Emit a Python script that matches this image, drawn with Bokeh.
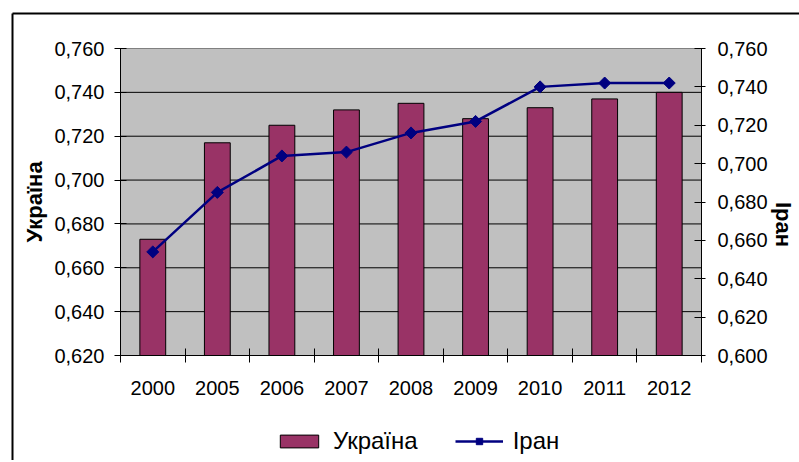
import math
from bokeh.plotting import figure
from bokeh.models import (Range1d, LinearAxis, FixedTicker, CustomJSTickFormatter,
                          Legend, LegendItem, ColumnDataSource)
from bokeh.embed import file_html
from bokeh.resources import INLINE

# ---- data ----
years = ["2000", "2005", "2006", "2007", "2008", "2009", "2010", "2011", "2012"]
ukraine = [0.673, 0.717, 0.725, 0.732, 0.735, 0.728, 0.733, 0.737, 0.740]
iran = [0.654, 0.685, 0.704, 0.706, 0.716, 0.722, 0.740, 0.742, 0.742]
left_ticks = [0.62, 0.64, 0.66, 0.68, 0.70, 0.72, 0.74, 0.76]
right_ticks = [0.60, 0.62, 0.64, 0.66, 0.68, 0.70, 0.72, 0.74, 0.76]

FONT = "Liberation Sans"
# canvas size and where the chart's plot area sits on it (pixels)
W, H = 799, 460
PA_L, PA_R, PA_T, PA_B = 120, 701, 48, 355
BORDER_X, BORDER_Y = 12, 13

n = len(years)
xc = [i + 0.5 for i in range(n)]
bounds = list(range(n + 1))

# ranges chosen so that the whole canvas is the Bokeh frame and the plot area
# lands on the PA_* pixels
ux = n / (PA_R - PA_L)
x_start, x_end = 0 - PA_L * ux, n + (W - PA_R) * ux
uyl = (left_ticks[-1] - left_ticks[0]) / (PA_B - PA_T)
yl_top, yl_bot = left_ticks[-1] + PA_T * uyl, left_ticks[0] - (H - PA_B) * uyl
uyr = (right_ticks[-1] - right_ticks[0]) / (PA_B - PA_T)
yr_top, yr_bot = right_ticks[-1] + PA_T * uyr, right_ticks[0] - (H - PA_B) * uyr


def px_x(px):
    return x_start + px * ux


def px_y(py):
    return yl_top - py * uyl


src = ColumnDataSource(dict(x=xc, ukraine=ukraine, iran=iran, year=years))

p = figure(width=W, height=H,
           x_range=Range1d(x_start, x_end), y_range=Range1d(yl_bot, yl_top),
           output_backend="svg", toolbar_location=None,
           min_border=0, min_border_left=0, min_border_right=0,
           min_border_top=0, min_border_bottom=0,
           background_fill_color="white", border_fill_color="white",
           outline_line_color=None)
p.extra_y_ranges = {"iran": Range1d(yr_bot, yr_top)}
p.xgrid.visible = False
p.ygrid.visible = False

fmt = CustomJSTickFormatter(code="return tick.toFixed(3).replace('.', ',');")
xfmt = CustomJSTickFormatter(args=dict(years=years),
                             code="return years[Math.floor(tick)];")

# plot-area background and horizontal gridlines
p.quad(left=[0], right=[n], bottom=[left_ticks[0]], top=[left_ticks[-1]],
       fill_color="#C0C0C0", line_color="#808080", line_width=1)
p.segment(x0=[0] * (len(left_ticks) - 2), x1=[n] * (len(left_ticks) - 2),
          y0=left_ticks[1:-1], y1=left_ticks[1:-1],
          line_color="black", line_width=1)

# bars
bars = p.vbar(x="x", top="ukraine", width=0.4, bottom=left_ticks[0], source=src,
              fill_color="#993366", line_color="black", line_width=1)

# line
ln = p.line(x="x", y="iran", source=src, y_range_name="iran",
            line_color="#000080", line_width=2.5)
pts = p.scatter(x="x", y="iran", source=src, y_range_name="iran",
                marker="square", angle=math.pi / 4, size=8.5,
                fill_color="#000080", line_color="#000080")

# outer chart border (left and top edges)
p.segment(x0=[px_x(BORDER_X), px_x(BORDER_X)], x1=[px_x(W + 5), px_x(BORDER_X)],
          y0=[px_y(BORDER_Y), px_y(BORDER_Y)], y1=[px_y(BORDER_Y), px_y(H + 5)],
          line_color="black", line_width=2)

# x axis
xa = p.xaxis[0]
xa.fixed_location = left_ticks[0]
xa.bounds = (0, n)
xa.ticker = FixedTicker(ticks=xc, minor_ticks=bounds)
xa.formatter = xfmt
xa.major_tick_in = 0
xa.major_tick_out = 0
xa.minor_tick_in = 7
xa.minor_tick_out = 7
xa.minor_tick_line_color = "black"
xa.axis_line_color = "black"
xa.major_label_standoff = 18
xa.major_label_text_font = FONT
xa.major_label_text_font_size = "20px"
xa.major_label_text_color = "black"

# left axis
ya = p.yaxis[0]
ya.fixed_location = 0
ya.bounds = (left_ticks[0], left_ticks[-1])
ya.ticker = FixedTicker(ticks=left_ticks)
ya.formatter = fmt
ya.major_tick_in = 6
ya.major_tick_out = 6
ya.major_tick_line_color = "black"
ya.minor_tick_line_color = None
ya.axis_line_color = "black"
ya.major_label_standoff = 10
ya.major_label_text_font = FONT
ya.major_label_text_font_size = "20px"
ya.major_label_text_color = "black"
ya.axis_label = "Україна"
ya.axis_label_text_font = FONT
ya.axis_label_text_font_size = "22px"
ya.axis_label_text_font_style = "bold"
ya.axis_label_text_color = "black"
ya.axis_label_standoff = 4

# right axis
yr = LinearAxis(y_range_name="iran", ticker=FixedTicker(ticks=right_ticks),
                formatter=fmt, fixed_location=n,
                bounds=(right_ticks[0], right_ticks[-1]))
yr.major_tick_in = 7
yr.major_tick_out = 4
yr.major_tick_line_color = "black"
yr.minor_tick_line_color = None
yr.axis_line_color = "black"
yr.major_label_standoff = 12
yr.major_label_text_font = FONT
yr.major_label_text_font_size = "20px"
yr.major_label_text_color = "black"
yr.axis_label = "Іран"
yr.axis_label_text_font = FONT
yr.axis_label_text_font_size = "22px"
yr.axis_label_text_font_style = "bold"
yr.axis_label_text_color = "black"
yr.axis_label_standoff = 13
try:
    yr.axis_label_orientation = -math.pi / 2
except Exception:
    pass
p.add_layout(yr, "right")

# legend (inside the frame, which is the whole canvas)
legend = Legend(items=[LegendItem(label="Україна", renderers=[bars]),
                       LegendItem(label="Іран", renderers=[ln, pts])],
                orientation="horizontal", location=(275, 5),
                padding=0, margin=0, spacing=37, label_standoff=10,
                glyph_width=48, glyph_height=16,
                border_line_alpha=0, background_fill_alpha=0,
                label_text_font=FONT, label_text_font_size="24px",
                label_text_color="black")
p.add_layout(legend, "center")

open("out.html", "w").write(file_html(p, INLINE))
